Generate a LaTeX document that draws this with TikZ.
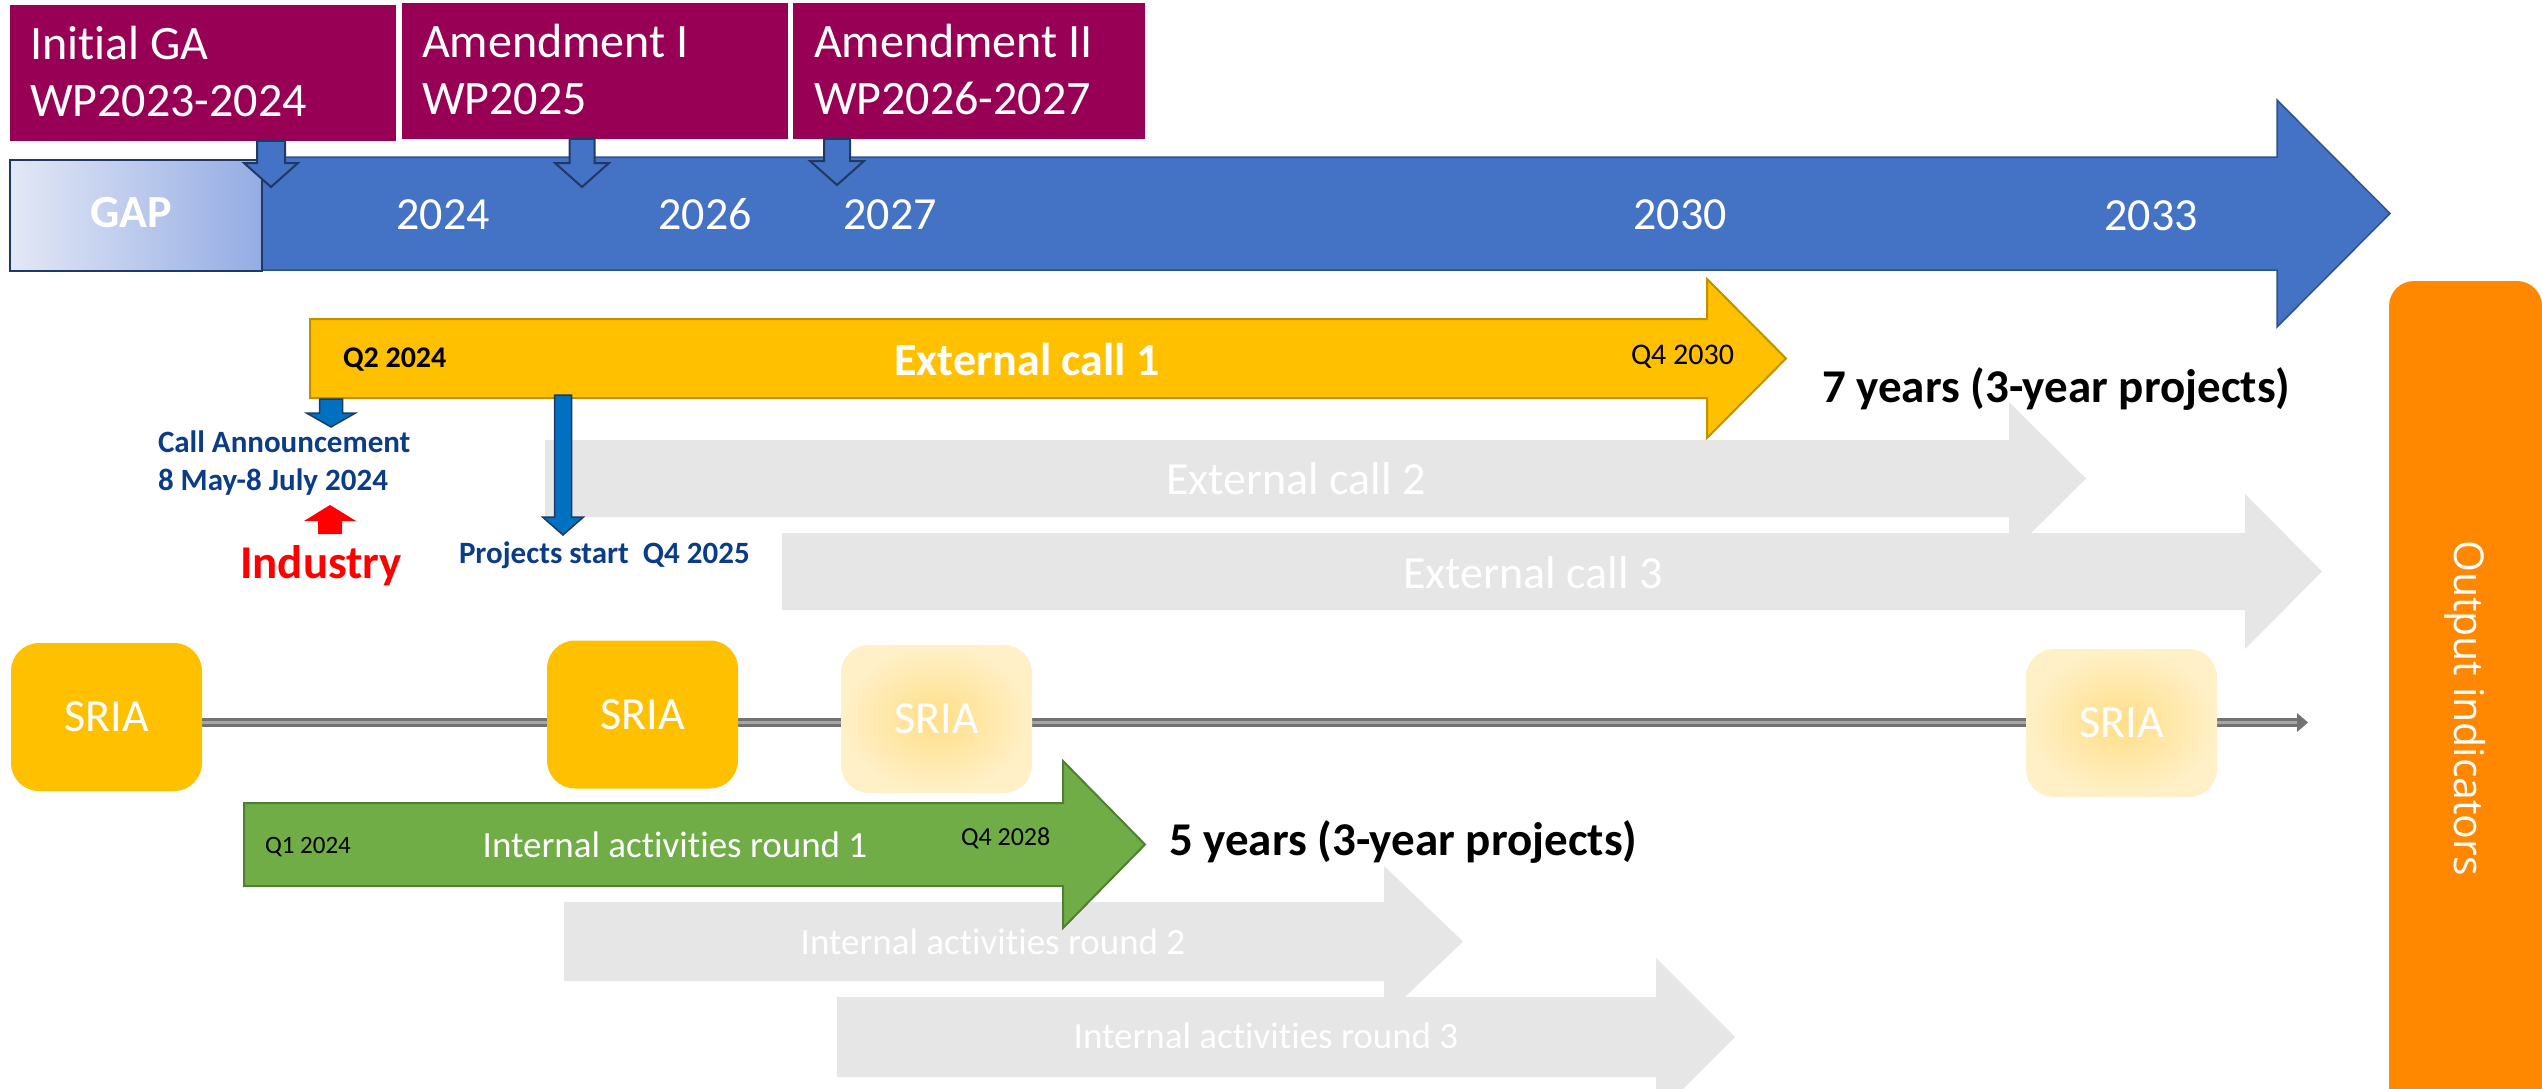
\documentclass[tikz,border=0pt]{standalone}
\usepackage{fontspec}
\setmainfont{Carlito}[Ligatures=NoCommon]
\newfontfamily\oifont{Open Sans}
\usetikzlibrary{calc}
\definecolor{purpleC}{HTML}{970054}
\definecolor{blueA}{HTML}{4472C4}
\definecolor{blueB}{HTML}{2F528F}
\definecolor{navyC}{HTML}{1F3864}
\definecolor{gapL}{HTML}{E3E8F5}
\definecolor{gapR}{HTML}{94ACE4}
\definecolor{yelC}{HTML}{FFC000}
\definecolor{yelB}{HTML}{BF9000}
\definecolor{greenC}{HTML}{70AD47}
\definecolor{greenB}{HTML}{507E32}
\definecolor{grayC}{HTML}{E6E6E6}
\definecolor{orangeC}{HTML}{FF8800}
\definecolor{callblue}{HTML}{0070C0}
\definecolor{calltext}{HTML}{0A3C88}
\definecolor{fadeIn}{HTML}{FFDE86}
\definecolor{fadeOut}{HTML}{FFF0C8}
\definecolor{lineOut}{HTML}{727272}
\definecolor{lineIn}{HTML}{A6A6A6}
\newcommand\fsz[1]{\fontsize{#1}{#1}\selectfont}
% right block arrow: style, x0, ytop, ybot, xhead, headtop, xtip
\newcommand\rblock[7]{\path[#1] (#2,#3) -- (#5,#3) -- (#5,#6) -- (#7,{(#3+#4)/2}) -- (#5,{#3+#4-#6}) -- (#5,#4) -- (#2,#4) -- cycle;}
% vertical block arrow: style, xc, yshaftend, yhead, ytip, shafthalf, headhalf
\newcommand\vblock[7]{\path[#1] ({#2-#6},#3) -- ({#2+#6},#3) -- ({#2+#6},#4) -- ({#2+#7},#4) -- (#2,#5) -- ({#2-#7},#4) -- ({#2-#6},#4) -- cycle;}
\pgfdeclarelayer{back}
\pgfsetlayers{back,main}
\begin{document}
\begin{tikzpicture}[x=1pt,y=-1pt,
  txt/.style={inner sep=0pt, outer sep=0pt},
  boxtxt/.style={txt, anchor=base west, text=white, font=\fsz{48}},
  year/.style={txt, anchor=base, text=white, font=\fsz{46}},
  graytxt/.style={txt, anchor=base, text=white},
  sria/.style={rectangle, rounded corners=28, minimum width=191, minimum height=148, inner sep=0pt, text=white, font=\fsz{46}},
  sriasolid/.style={sria, fill=yelC},
  sriafade/.style={sria, inner color=fadeIn, outer color=fadeOut},
  navytxt/.style={txt, anchor=base west, text=calltext, font=\bfseries\fsz{31}},
  smallblue/.style={fill=blueA, draw=navyC, line width=2},
  callarrow/.style={fill=callblue, draw=navyC, line width=1.5}
]
\clip (0,0) rectangle (2542,1089);
\useasboundingbox (0,0) rectangle (2542,1089);

% grey future arrows
\rblock{fill=grayC}{545}{440}{517}{2009}{402}{2086}
\rblock{fill=grayC}{782}{533}{610}{2245}{494}{2322}
\rblock{fill=grayC}{837}{997}{1077}{1656}{958}{1735}
\rblock{fill=grayC}{564}{902}{981}{1384}{866}{1463}

% main timeline arrow and GAP box
\rblock{fill=blueA, draw=blueB, line width=1.5}{258}{157}{270}{2277}{100}{2390}
\path[left color=gapL, right color=gapR, draw=navyC, line width=2] (10,160) rectangle (262,271);

% work programme boxes
\fill[purpleC] (10,5) rectangle (396,141);
\fill[purpleC] (402,3) rectangle (788,139);
\fill[purpleC] (793,3) rectangle (1145,139);
\vblock{smallblue}{271}{141}{163}{187}{14}{27}
\vblock{smallblue}{582}{139}{163}{187}{12.5}{27}
\vblock{smallblue}{837}{139}{161}{185}{13}{27}

% external call 1
\rblock{fill=yelC, draw=yelB, line width=2}{310}{319}{398}{1707}{279}{1786}
\vblock{callarrow}{331}{399}{413}{427}{11.5}{24.5}
\vblock{callarrow}{563}{395}{517}{535}{8.5}{20.5}
\vblock{fill=red}{330}{534}{521}{505}{12}{26}

% SRIA line
\node[sriasolid] (s1) at (106.5,717) {SRIA};
\node[sriasolid] (s2) at (642.5,714.5) {SRIA};
\node[sriafade] (s3) at (936.5,719) {SRIA};
\node[sriafade] (s4) at (2121.5,723) {SRIA};
\coordinate (lhead) at (2299,722.5);
\coordinate (lend) at (2308,722.5);
\begin{pgfonlayer}{back}
\draw[line width=9, draw=lineOut] (s1.east |- lhead) -- (lhead);
\draw[line width=3, draw=lineIn] (s1.east |- lhead) -- (lhead);
\fill[lineOut] (2297,713) -- (lend) -- (2297,732) -- cycle;
\end{pgfonlayer}

% internal activities round 1
\rblock{fill=greenC, draw=greenB, line width=2}{244}{803}{886}{1063}{761}{1145}

% output indicators
\fill[orangeC, rounded corners=25] (2389,281) rectangle (2542,1140);

% texts
\node[boxtxt] (ga1) at (30,60) {Initial GA};
\node[boxtxt] (ga2) at (30,117) {WP2023-2024};
\node[boxtxt] (am1) at (422,58) {Amendment I};
\node[boxtxt] (am2) at (422,115) {WP2025};
\node[boxtxt] (am3) at (814,58) {Amendment II};
\node[boxtxt] (am4) at (814,115) {WP2026-2027};
\node[txt, anchor=base, text=white, font=\bfseries\fsz{46}] (gap) at (131,227) {GAP};
\node[year] (y24) at (443,229) {2024};
\node[year] (y26) at (705,229) {2026};
\node[year] (y27) at (890,229) {2027};
\node[year] (y30) at (1680,229) {2030};
\node[year] (y33) at (2151,230) {2033};

\node[txt, anchor=base west, font=\bfseries\fsz{30}] (q2) at (343,367) {Q2 2024};
\node[txt, anchor=base, text=white, font=\bfseries\fsz{46}] (ec1) at (1027,375) {External call 1};
\node[txt, anchor=base west, font=\fsz{30}] (q430) at (1631,364) {Q4 2030};
\node[txt, anchor=base west, font=\bfseries\fsz{47}] (seven) at (1822,402) {7 years (3-year projects)};
\node[graytxt, font=\fsz{46}] (ec2) at (1296,494) {External call 2};
\node[graytxt, font=\fsz{46}] (ec3) at (1533,588) {External call 3};

\node[navytxt] (ca1) at (158,452) {Call Announcement};
\node[navytxt] (ca2) at (158,490) {8 May-8 July 2024};
\node[txt, anchor=base west, text=red, font=\bfseries\fsz{47}] (ind) at (240,578) {Industry};
\node[navytxt] (ps) at (459,563) {Projects start\ \ Q4 2025};

\node[txt, anchor=base west, font=\fsz{25}] (q124) at (265,853) {Q1 2024};
\node[graytxt, font=\fsz{37}] (ia1) at (675,857) {Internal activities round 1};
\node[txt, anchor=base west, font=\fsz{26}] (q428) at (961,845) {Q4 2028};
\node[txt, anchor=base west, font=\bfseries\fsz{47}] (five) at (1169,855) {5 years (3-year projects)};
\node[graytxt, font=\fsz{37}] (ia2) at (993,954) {Internal activities round 2};
\node[graytxt, font=\fsz{37}] (ia3) at (1266,1048) {Internal activities round 3};

\node[txt, rotate=-90, text=white, font=\oifont\fsz{41}] (oi) at (2465,708) {Output indicators};
\end{tikzpicture}
\end{document}
